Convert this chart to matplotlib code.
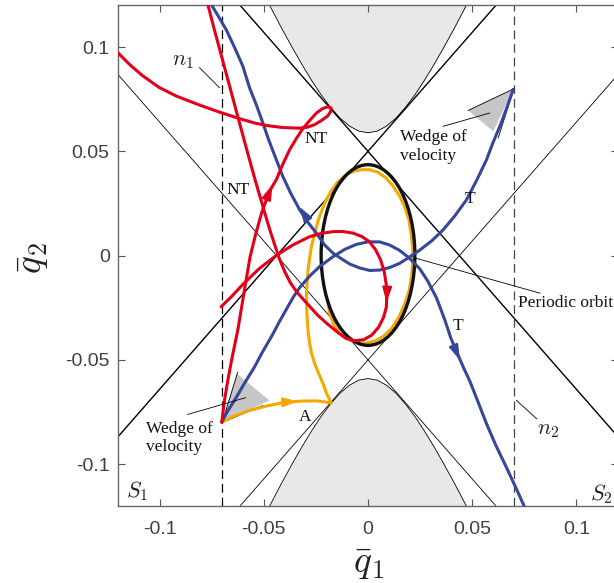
import numpy as np
import matplotlib.pyplot as plt
from matplotlib.patches import Ellipse, Polygon

plt.rcParams['mathtext.fontset'] = 'cm'

# ---- data (q1, q2) ----
# red, non-transit (NT) trajectory starting at the lower-left wedge apex
r1_q1 = [-0.0702, -0.0689, -0.0673, -0.0650, -0.0625, -0.0605, -0.0585, -0.0566, -0.0540,
         -0.0511, -0.0487, -0.0464, -0.0440, -0.0410, -0.0376, -0.0344, -0.0314, -0.0280,
         -0.0247, -0.0218, -0.0194, -0.0177, -0.0179, -0.0194, -0.0223, -0.0256, -0.0290,
         -0.0328, -0.0410, -0.0487, -0.0545, -0.0617, -0.0713, -0.0809, -0.0920, -0.1002,
         -0.1084, -0.1146, -0.1232]
r1_q2 = [-0.0798, -0.0694, -0.0598, -0.0477, -0.0357, -0.0237, -0.0117, -0.0006, 0.0100,
         0.0204, 0.0270, 0.0324, 0.0364, 0.0436, 0.0508, 0.0561, 0.0607, 0.0648,
         0.0684, 0.0705, 0.0713, 0.0708, 0.0691, 0.0669, 0.0648, 0.0628, 0.0616,
         0.0611, 0.0614, 0.0624, 0.0636, 0.0657, 0.0688, 0.0722, 0.0765, 0.0806,
         0.0864, 0.0918, 0.1004]
# red NT trajectory starting on n1
r3_q1 = [-0.0705, -0.0655, -0.0601, -0.0521, -0.0440, -0.0361, -0.0280, -0.0223, -0.0168,
         -0.0122, -0.0072, -0.0030, 0.0008, 0.0037, 0.0061, 0.0078, 0.0088, 0.0090, 0.0088,
         0.0075, 0.0051, 0.0018, -0.0021, -0.0064, -0.0107, -0.0146, -0.0194, -0.0242,
         -0.0290, -0.0338, -0.0372, -0.0400, -0.0425, -0.0446, -0.0468, -0.0487, -0.0504,
         -0.0521, -0.0538, -0.0554, -0.0582, -0.0608, -0.0634, -0.0660, -0.0686, -0.0712,
         -0.0738, -0.0763, -0.0783]
r3_q2 = [-0.0245, -0.0196, -0.0138, -0.0061, 0.0001, 0.0051, 0.0091, 0.0107, 0.0115,
         0.0116, 0.0108, 0.0092, 0.0066, 0.0027, -0.0021, -0.0078, -0.0141, -0.0199, -0.0247,
         -0.0295, -0.0343, -0.0381, -0.0403, -0.0408, -0.0396, -0.0367, -0.0328, -0.0285,
         -0.0232, -0.0179, -0.0131, -0.0076, -0.0016, 0.0047, 0.0114, 0.0176, 0.0234,
         0.0292, 0.0350, 0.0407, 0.0508, 0.0604, 0.0700, 0.0797, 0.0893, 0.0989,
         0.1085, 0.1182, 0.1253]
# blue transit (T) trajectories
b1_q1 = [0.0697, 0.0667, 0.0633, 0.0600, 0.0569, 0.0523, 0.0473, 0.0417, 0.0361, 0.0306,
         0.0249, 0.0200, 0.0152, 0.0104, 0.0056, 0.0008, -0.0040, -0.0088, -0.0126, -0.0168,
         -0.0208, -0.0248, -0.0290, -0.0328, -0.0372, -0.0409, -0.0444, -0.0477, -0.0505,
         -0.0535, -0.0569, -0.0601, -0.0641, -0.0679, -0.0718, -0.0753, -0.0780]
b1_q2 = [0.0797, 0.0710, 0.0620, 0.0542, 0.0460, 0.0364, 0.0268, 0.0191, 0.0124, 0.0071,
         0.0027, -0.0006, -0.0037, -0.0057, -0.0069, -0.0071, -0.0059, -0.0040, -0.0016, 0.0012,
         0.0051, 0.0108, 0.0162, 0.0220, 0.0301, 0.0380, 0.0470, 0.0556, 0.0637,
         0.0720, 0.0806, 0.0909, 0.0999, 0.1080, 0.1147, 0.1205, 0.1248]
b2_q1 = [-0.0702, -0.0675, -0.0641, -0.0593, -0.0545, -0.0506, -0.0464, -0.0425, -0.0385,
         -0.0357, -0.0328, -0.0280, -0.0232, -0.0168, -0.0112, -0.0056, -0.0001, 0.0056,
         0.0104, 0.0152, 0.0200, 0.0249, 0.0287, 0.0329, 0.0369, 0.0398, 0.0433, 0.0460,
         0.0489, 0.0527, 0.0569, 0.0614, 0.0665, 0.0705, 0.0745, 0.0758]
b2_q2 = [-0.0798, -0.0747, -0.0694, -0.0612, -0.0534, -0.0461, -0.0389, -0.0316, -0.0245,
         -0.0196, -0.0153, -0.0098, -0.0052, -0.0005, 0.0030, 0.0054, 0.0066, 0.0066,
         0.0051, 0.0025, -0.0013, -0.0064, -0.0122, -0.0203, -0.0309, -0.0396, -0.0478, -0.0540,
         -0.0602, -0.0698, -0.0806, -0.0910, -0.1016, -0.1102, -0.1190, -0.1222]
# orange asymptotic (A) trajectory
a_q1 = [-0.0702, -0.0641, -0.0569, -0.0497, -0.0425, -0.0376, -0.0314, -0.0248, -0.0208,
        -0.0176, -0.0199, -0.0216, -0.0237, -0.0256, -0.0271, -0.0280, -0.0288, -0.0292,
        -0.0295, -0.0295, -0.0292, -0.0288, -0.0280, -0.0271, -0.0256, -0.0237, -0.0208,
        -0.0179, -0.0146, -0.0107, -0.0069, -0.0030, 0.0008, 0.0047, 0.0085, 0.0119,
        0.0152, 0.0176, 0.0196, 0.0209, 0.0215, 0.0215, 0.0210, 0.0198, 0.0176, 0.0148,
        0.0114, 0.0075, 0.0032, -0.0011, -0.0054, -0.0098, -0.0136, -0.0165, -0.0184, -0.0194]
a_q2 = [-0.0798, -0.0768, -0.0742, -0.0723, -0.0708, -0.0701, -0.0697, -0.0696, -0.0701,
        -0.0707, -0.0660, -0.0613, -0.0564, -0.0517, -0.0468, -0.0421, -0.0357, -0.0300,
        -0.0237, -0.0179, -0.0126, -0.0069, -0.0011, 0.0047, 0.0108, 0.0176, 0.0252,
        0.0306, 0.0352, 0.0386, 0.0405, 0.0412, 0.0412, 0.0400, 0.0374, 0.0335,
        0.0285, 0.0234, 0.0172, 0.0091, 0.0027, -0.0030, -0.0093, -0.0165, -0.0232, -0.0295,
        -0.0348, -0.0386, -0.0410, -0.0420, -0.0417, -0.0400, -0.0372, -0.0328, -0.0275, -0.0213]
# periodic orbit (centre, full width, full height)
orbit_c = (0.0, 0.0003)
orbit_w, orbit_h = 0.045, 0.0866
# forbidden-region boundary, right half (upper region; lower one is its mirror)
zv_q1 = [0.0, 0.0045, 0.009, 0.0135, 0.018, 0.0225, 0.027, 0.0315, 0.036, 0.0415, 0.047, 0.048]
zv_q2 = [0.0589, 0.0597, 0.0622, 0.0660, 0.0711, 0.0771, 0.0839, 0.0913, 0.0991, 0.1091, 0.1196, 0.1215]
# bounding lines: through (0, +-0.05) with slope +-1.14
line_q2 = 0.05
line_slope = 1.14
n_q1 = 0.07
# velocity wedges
wedge_up = [(0.0700, 0.0800), (0.0481, 0.0696), (0.0601, 0.0596)]
wedge_up_edges = [(0.0481, 0.0696), (0.0625, 0.0564)]
wedge_lo = [(-0.0700, -0.0800), (-0.0630, -0.0565), (-0.0473, -0.0694)]
wedge_lo_edges = [(-0.0625, -0.0558), (-0.0505, -0.0718)]

red, blue, orange = '#e2001a', '#35479a', '#f5a800'

fig = plt.figure(figsize=(6.14, 5.83), dpi=100)
ax = fig.add_axes([118 / 614, 77 / 583, 500 / 614, 500.7 / 583])
ax.set_xlim(-0.12, 0.12)
ax.set_ylim(-0.12, 0.12)

# forbidden regions
bx = np.concatenate([-np.array(zv_q1[::-1]), zv_q1])
by = np.concatenate([zv_q2[::-1], zv_q2])
ax.fill_between(bx, by, 0.2, color='#e8e8e8', lw=0, zorder=0)
ax.fill_between(bx, -by, -0.2, color='#e8e8e8', lw=0, zorder=0)
ax.plot(bx, by, color='k', lw=0.6, zorder=1)
ax.plot(bx, -by, color='k', lw=0.6, zorder=1)

ax.axline((0, line_q2), slope=line_slope, color='k', lw=1.0, zorder=1)
ax.axline((0, line_q2), slope=-line_slope, color='k', lw=1.0, zorder=1)
ax.axline((0, -line_q2), slope=line_slope, color='k', lw=0.6, zorder=1)
ax.axline((0, -line_q2), slope=-line_slope, color='k', lw=0.6, zorder=1)

ax.axvline(-n_q1, color='k', lw=0.9, ls=(0, (7, 4)), zorder=1)
ax.axvline(n_q1, color='#444444', lw=0.9, ls=(0, (7, 4)), zorder=1)

# wedges
for w, edges in [(wedge_up, wedge_up_edges), (wedge_lo, wedge_lo_edges)]:
    ax.add_patch(Polygon(w, closed=True, facecolor='#c6c6c6', edgecolor='none', zorder=2))
    for e in edges:
        ax.plot([w[0][0], e[0]], [w[0][1], e[1]], color='k', lw=0.6, zorder=2)

# trajectories
kw = dict(lw=2.2, solid_joinstyle='round', solid_capstyle='round')
ax.plot(a_q1, a_q2, color=orange, zorder=3, **kw)
ax.add_patch(Ellipse(orbit_c, orbit_w, orbit_h, fill=False, edgecolor='#111111', lw=2.4, zorder=4))
ax.plot(b1_q1, b1_q2, color=blue, zorder=5, **kw)
ax.plot(b2_q1, b2_q2, color=blue, zorder=5, **kw)
ax.plot(r1_q1, r1_q2, color=red, zorder=6, **kw)
ax.plot(r3_q1, r3_q2, color=red, zorder=6, **kw)


def arrow(xs, ys, tip, color):
    xs, ys = np.asarray(xs), np.asarray(ys)
    i = int(np.argmin((xs - tip[0]) ** 2 + (ys - tip[1]) ** 2))
    i = min(max(i, 1), len(xs) - 1)
    d = np.array([xs[i] - xs[i - 1], ys[i] - ys[i - 1]])
    d = d / np.hypot(*d)
    back = (tip[0] - 0.005 * d[0], tip[1] - 0.005 * d[1])
    ax.annotate('', xy=tip, xytext=back, zorder=7,
                arrowprops=dict(arrowstyle='-|>,head_length=0.9,head_width=0.28',
                                color=color, lw=1.5, shrinkA=0, shrinkB=0))


arrow(r1_q1, r1_q2, (-0.0458, 0.0340), red)
arrow(r3_q1, r3_q2, (0.0089, -0.0225), red)
arrow(b1_q1, b1_q2, (-0.0330, 0.0235), blue)
arrow(b2_q1, b2_q2, (0.0441, -0.0501), blue)
arrow(a_q1, a_q2, (-0.0335, -0.0698), orange)

# annotations
serif = dict(family='Liberation Serif', fontsize=12.5, color='#111111')
for s, x, y in [('NT', -0.0625, 0.0316), ('NT', -0.0248, 0.0559), ('T', 0.0489, 0.0272),
                ('T', 0.0433, -0.0337), ('A', -0.0300, -0.0775)]:
    ax.text(x, y, s, ha='center', va='center', zorder=8, **serif)
ax.text(0.0152, 0.0524, 'Wedge of\nvelocity', ha='left', va='center', zorder=8, **serif)
ax.text(-0.1065, -0.0874, 'Wedge of\nvelocity', ha='left', va='center', zorder=8, **serif)
ax.text(0.0722, -0.0228, 'Periodic orbit', ha='left', va='center', zorder=8, clip_on=False, **serif)
for s, x, y in [(r'$n_1$', -0.0886, 0.0931), (r'$n_2$', 0.0864, -0.0838),
                (r'$S_1$', -0.1110, -0.1129), (r'$S_2$', 0.1122, -0.1143)]:
    ax.text(x, y, s, ha='center', va='center', fontsize=16, color='#222222', zorder=8)

pointers = [((0.0232, -0.0013), (0.0826, -0.0180)),
            ((0.0361, 0.0620), (0.0585, 0.0684)),
            ((-0.0865, -0.0761), (-0.0588, -0.0681)),
            ((-0.0809, 0.0901), (-0.0713, 0.0805)),
            ((0.0713, -0.0694), (0.0810, -0.0782))]
for p, q in pointers:
    ax.plot([p[0], q[0]], [p[1], q[1]], color='k', lw=0.6, zorder=8)

# axes styling (MATLAB look)
ticks = [-0.1, -0.05, 0, 0.05, 0.1]
tlabels = ['-0.1', '-0.05', '0', '0.05', '0.1']
ax.set_xticks(ticks)
ax.set_xticklabels(tlabels)
ax.set_yticks(ticks)
ax.set_yticklabels(tlabels)
ax.tick_params(direction='in', length=5, width=0.8, color='#555555', labelcolor='#404040',
               top=True, right=True, labelsize=14)
ax.tick_params(axis='x', pad=11)
ax.tick_params(axis='y', pad=6)
for lab in ax.get_xticklabels() + ax.get_yticklabels():
    lab.set_family('Liberation Sans')
for sp in ax.spines.values():
    sp.set_color('#666666')
    sp.set_linewidth(1.0)

ax.set_xlabel(r'$\bar{q}_1$', fontsize=27, color='#222222')
ax.xaxis.set_label_coords(0.5006, -0.078)
ax.set_ylabel(r'$\bar{q}_2$', fontsize=27, color='#222222')
ax.yaxis.set_label_coords(-0.136, 0.495)

fig.savefig('out.png', dpi=100)
